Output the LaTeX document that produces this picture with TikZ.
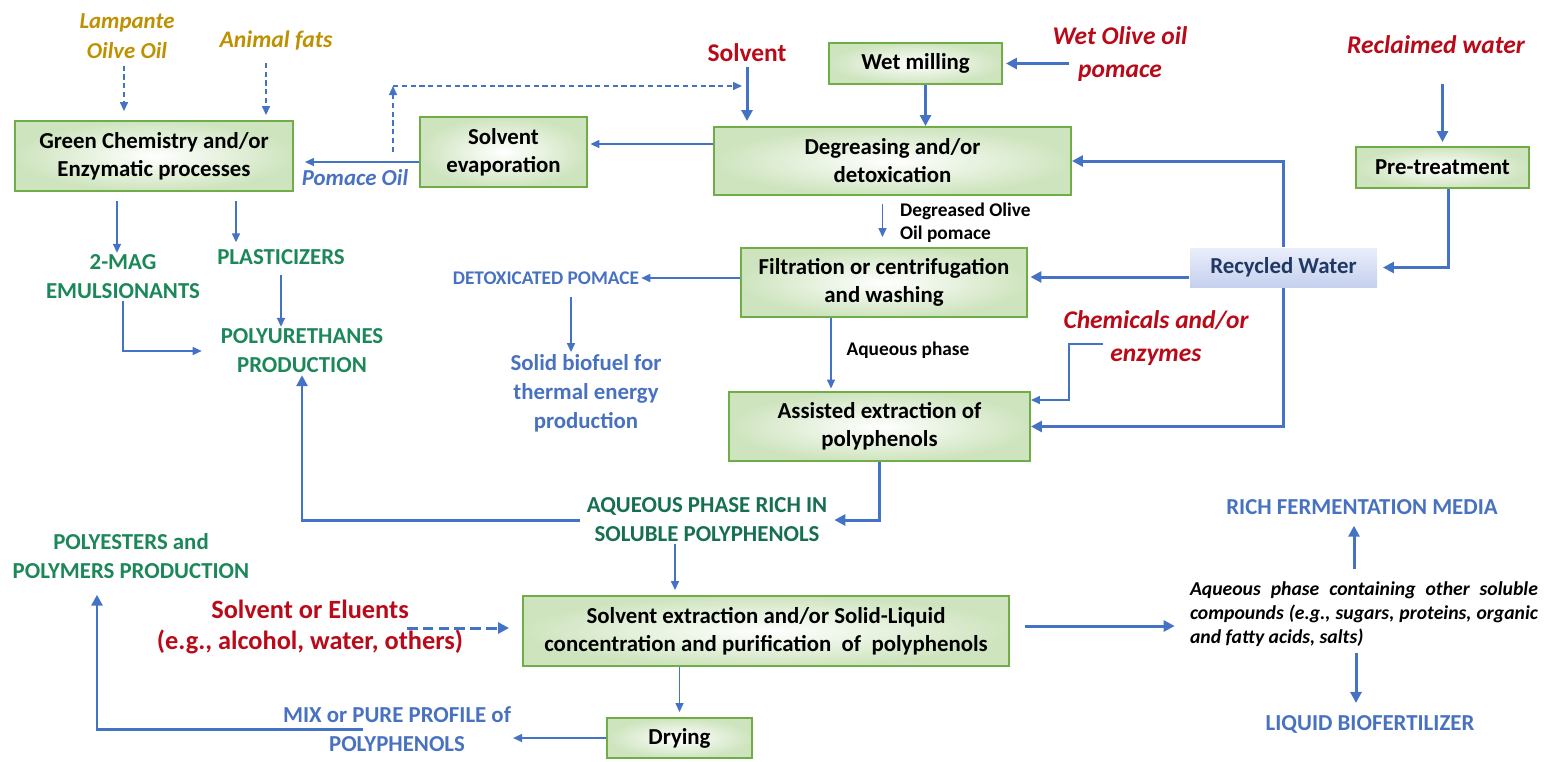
\documentclass[tikz,border=0pt]{standalone}
\usepackage{fontspec}
\setmainfont{Carlito}
\usepackage{tikz}
\usetikzlibrary{arrows.meta}
\definecolor{boxedge}{RGB}{112,173,71}
\definecolor{boxfill}{RGB}{206,228,190}
\definecolor{lineblue}{RGB}{68,114,196}
\definecolor{txtblue}{RGB}{72,114,192}
\definecolor{txtgreen}{RGB}{28,135,88}
\definecolor{darkgreen}{RGB}{22,112,80}
\definecolor{txtred}{RGB}{185,10,25}
\definecolor{txtgold}{RGB}{191,144,0}
\definecolor{navy}{RGB}{31,56,100}
\definecolor{rwtop}{RGB}{234,238,250}
\definecolor{rwbot}{RGB}{196,208,238}

\begin{document}
\begin{tikzpicture}[x=0.2mm,y=-0.2mm,
  procbox/.style={draw=boxedge, line width=1.1pt, inner color=white, outer color=boxfill,
    font=\fontsize{13}{16}\selectfont\bfseries, align=center, inner sep=0pt},
  label/.style={align=center, inner sep=1pt, font=\fontsize{13}{16.5}\selectfont\bfseries},
  redlab/.style={label, text=txtred, font=\fontsize{14.5}{18.8}\selectfont\bfseries\itshape},
  greenlab/.style={label, text=txtgreen},
  bluelab/.style={label, text=txtblue},
  smalllab/.style={inner sep=1pt, font=\fontsize{11}{13}\selectfont\bfseries},
  thinarr/.style={draw=lineblue, line width=0.85pt, -{Triangle[length=1.8mm,width=1.6mm]}},
  thickarr/.style={draw=lineblue, line width=1.7pt, -{Triangle[length=2.2mm,width=2.2mm]}},
  dasharr/.style={thinarr, dash pattern=on 3pt off 2pt},
  thickdash/.style={thickarr, dash pattern=on 6pt off 3pt}]
\useasboundingbox (0,0) rectangle (1559,761);

\node[label, text=txtgold, font=\fontsize{13}{17}\selectfont\bfseries\itshape](lamp) at (127,36) {Lampante\\Oilve Oil};
\node[label, text=txtgold, font=\fontsize{13.5}{17}\selectfont\bfseries\itshape](fats) at (276,41) {Animal fats};
\node[procbox, minimum width=55.6mm, minimum height=14mm](G) at (154,156) {Green Chemistry and/or\\Enzymatic processes};
\node[procbox, minimum width=33.4mm, minimum height=14mm](E) at (503.5,152) {Solvent\\evaporation};
\node[label, text=txtblue, font=\fontsize{13}{16}\selectfont\bfseries\itshape](poil) at (355,178) {Pomace Oil};
\node[label, text=txtred, font=\fontsize{14.5}{18}\selectfont\bfseries](solv) at (747,53) {Solvent};
\node[procbox, minimum width=71.4mm, minimum height=13.6mm](D) at (892.5,161) {Degreasing and/or\\detoxication};
\node[procbox, minimum width=34.6mm, minimum height=8.2mm](W) at (915.5,63.5) {Wet milling};
\node[redlab](wet) at (1120,54) {Wet Olive oil\\pomace};
\node[redlab](recl) at (1436,45) {Reclaimed water};
\node[procbox, minimum width=34.6mm, minimum height=8.2mm](P) at (1442.5,167.5) {Pre-treatment};
\node[procbox, draw=none, top color=rwtop, bottom color=rwbot, text=navy, minimum width=37.4mm, minimum height=7.8mm](R) at (1283.5,267.5) {Recycled Water};
\node[smalllab, align=left, anchor=west](dgr) at (898,223) {Degreased Olive\\Oil pomace};
\node[procbox, minimum width=57.2mm, minimum height=13.8mm](F) at (884,282.5) {Filtration or centrifugation\\and washing};
\node[bluelab, font=\fontsize{11}{13}\selectfont\bfseries](detox) at (546,278) {DETOXICATED POMACE};
\node[bluelab](bio) at (586,393) {Solid biofuel for\\thermal energy\\production};
\node[smalllab](aq) at (908,350) {Aqueous phase};
\node[redlab](chem) at (1156,338) {Chemicals and/or\\enzymes};
\node[procbox, minimum width=60.2mm, minimum height=13.8mm](A) at (879.5,426.5) {Assisted extraction of\\polyphenols};
\node[greenlab](mag) at (123,277) {2-MAG\\EMULSIONANTS};
\node[greenlab](plast) at (281,257) {PLASTICIZERS};
\node[greenlab](pu) at (302,351) {POLYURETHANES\\PRODUCTION};
\node[label, text=darkgreen](aqr) at (707,520) {AQUEOUS PHASE RICH IN\\SOLUBLE POLYPHENOLS};
\node[greenlab](pes) at (131,556) {POLYESTERS and\\POLYMERS PRODUCTION};
\node[label, text=txtred, font=\fontsize{15}{17.6}\selectfont\bfseries](solel) at (310,627) {Solvent or Eluents\\(e.g., alcohol, water, others)};
\node[procbox, minimum width=97.2mm, minimum height=14mm](S) at (766,631) {Solvent extraction and/or Solid-Liquid\\concentration and purification\ \ of\ \ polyphenols};
\node[procbox, minimum width=29mm, minimum height=8mm](Y) at (679.5,738) {Drying};
\node[bluelab](mix) at (397,729) {MIX or PURE PROFILE of\\POLYPHENOLS};
\node[inner sep=0pt, text width=69.6mm, align=justify, font=\fontsize{11.2}{13.6}\selectfont\bfseries\itshape](aqo) at (1364,614) {\hyphenpenalty 10000 \exhyphenpenalty 10000 Aqueous phase containing other soluble compounds (e.g., sugars, proteins, organic and fatty acids, salts)};
\node[bluelab](rich) at (1362,507) {RICH FERMENTATION MEDIA};
\node[bluelab](liq) at (1370,724) {LIQUID BIOFERTILIZER};

\coordinate (up) at (393,152);
\coordinate (corner) at (393,86);
\coordinate (ch1) at (1103,344);
\coordinate (ch2) at (1069,344);
\coordinate (mx) at (363,729);
\coordinate (se) at (407,628);

\draw[dasharr, shorten <=1mm, shorten >=1.8mm] ([xshift=-0.6mm]lamp.south) -- ([xshift=-0.6mm]lamp.south |- G.north);
\draw[dasharr, shorten <=2mm, shorten >=1mm] ([xshift=-2mm]fats.south) -- ([xshift=-2mm]fats.south |- G.north);
\draw[thinarr, shorten >=2.2mm] (E.west |- 0,162) -- (G.east |- 0,162);
\draw[dasharr] (up) -- (corner);
\draw[dasharr, shorten >=1mm] (corner) -- (solv |- corner);
\draw[thickarr, shorten <=0.5mm, shorten >=1mm] (solv.south) -- (solv.south |- D.north);
\draw[thickarr, shorten >=0.6mm] ([xshift=3.8mm]wet.west |- W.east) -- (W.east);
\draw[thickarr] ([xshift=2mm]W.south) -- ([xshift=2mm]W.south |- D.north);
\draw[thinarr, shorten >=0.5mm] (D.west |- 0,144) -- (E.east |- 0,144);
\draw[thickarr, shorten <=5.5mm, shorten >=0.8mm] (P.north |- recl.south) -- (P.north);
\draw[thickarr, shorten >=1mm] ([xshift=1.2mm]P.south) |- (R.east);
\draw[thickarr] (R.north) |- (D.east);
\draw[thickarr, shorten >=0.5mm] (R.west |- 0,277) -- (F.east |- 0,277);
\draw[thickarr] (R.south) |- (A.east);
\draw[thinarr, shorten <=1.6mm, shorten >=2mm] ([xshift=-2mm]D.south) -- ([xshift=-2mm]D.south |- F.north);
\draw[thinarr] (F.west |- detox.east) -- (detox.east);
\draw[thinarr, shorten <=2mm] ([xshift=5mm]detox.south) -- ([xshift=5mm]detox.south |- bio.north);
\draw[thinarr, shorten >=0.5mm] ([xshift=-10.6mm]F.south) -- ([xshift=-10.6mm]F.south |- A.north);
\draw[thinarr] (ch1) -- (ch2) |- ([yshift=5.3mm]A.east);
\draw[thickarr, shorten >=1mm] (A.south) |- (aqr.east);
\draw[thickarr, shorten <=1mm] (aqr.west) -| (pu.south);
\draw[thinarr, shorten >=1mm] ([xshift=-6.4mm]aqr.south) -- ([xshift=-6.4mm]aqr.south |- S.north);
\draw[thinarr, shorten >=1mm] (Y.north |- S.south) -- (Y.north);
\draw[thinarr] (Y.west) -- (mix.east |- Y.west);
\draw[thickarr, shorten >=2.8mm] (mx) -| ([xshift=-6.8mm]pes.south);
\draw[thickdash, shorten >=2.6mm] (se) -- (S.west |- se);
\draw[thickarr, shorten <=3mm, shorten >=3mm] (S.east |- 0,626) -- (aqo.west |- 0,626);
\draw[thickarr, shorten <=2.4mm, shorten >=1.8mm] ([xshift=-2mm]aqo.north) -- ([xshift=-2mm]aqo.north |- rich.south);
\draw[thickarr, shorten <=1.2mm, shorten >=2mm] ([xshift=-1.6mm]aqo.south) -- ([xshift=-1.6mm]aqo.south |- liq.north);
\draw[thinarr, shorten >=3.4mm] (mag.south) |- (pu.west);
\draw[thinarr, shorten <=1.6mm] (plast.south) -- (plast.south |- pu.north);
\draw[thinarr, shorten <=1.8mm] ([xshift=-7.4mm]G.south) -- ([xshift=-7.4mm]G.south |- mag.north);
\draw[thinarr, shorten <=1.8mm, shorten >=1mm] ([xshift=16.4mm]G.south) -- ([xshift=16.4mm]G.south |- plast.north);
\end{tikzpicture}
\end{document}
